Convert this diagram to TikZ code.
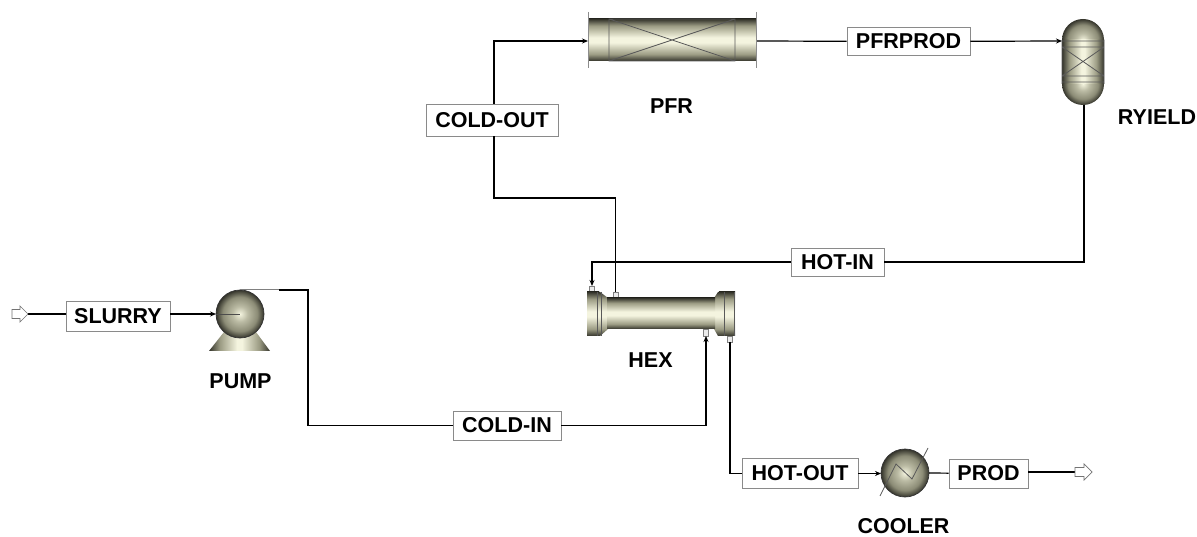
\documentclass[tikz,border=0pt]{standalone}
\usepackage{fontspec}
\setmainfont{Liberation Sans}
\usetikzlibrary{arrows.meta}
\definecolor{eqL}{HTML}{F4F4DF}
\definecolor{eqM}{HTML}{9C9C84}
\definecolor{eqD}{HTML}{33332A}
\definecolor{boxgray}{HTML}{8A8A8A}
\pgfdeclareverticalshading{cylv}{100bp}{color(0bp)=(eqD);color(25bp)=(eqD);color(33bp)=(eqM);color(47bp)=(eqL);color(53bp)=(eqL);color(67bp)=(eqM);color(75bp)=(eqD);color(100bp)=(eqD)}
\pgfdeclarehorizontalshading{cylh}{100bp}{color(0bp)=(eqD);color(25bp)=(eqD);color(34bp)=(eqM);color(48bp)=(eqL);color(52bp)=(eqL);color(66bp)=(eqM);color(75bp)=(eqD);color(100bp)=(eqD)}
\pgfdeclareradialshading{ballx}{\pgfpoint{0bp}{0bp}}{color(0bp)=(eqL);color(8bp)=(eqM!65!eqL);color(18bp)=(eqM!85!eqD);color(25bp)=(eqD);color(50bp)=(eqD)}
\tikzset{
  x=1pt,y=-1pt,
  stream/.style={line width=1.2pt,black},
  flowtip/.style={stream,-{Stealth[length=6pt,width=5pt]}},
  streamlabel/.style={draw=boxgray,line width=0.9pt,fill=white,inner sep=0pt,font=\fontsize{21.5}{23}\selectfont\bfseries,text=black},
  eqlabel/.style={inner sep=0pt,font=\fontsize{21.5}{23}\selectfont\bfseries,text=black},
  detail/.style={draw=black!65,line width=0.8pt},
  edgeline/.style={draw=black!80,line width=0.7pt},
  nozzle/.style={draw=black!50,line width=0.5pt,fill=black!8},
  openarrow/.style={draw=black!55,line width=0.7pt,fill=white},
  ballshape/.style={circle,inner sep=0pt,minimum size=48pt,shading=ballx,edgeline},
}
\begin{document}
\begin{tikzpicture}
\useasboundingbox (0,0) rectangle (1197,537);
% PFR
\node (pfr) at (672,40) [rectangle,inner sep=0pt,minimum width=168pt,minimum height=42pt,shading=cylv] {};
\draw[detail] (609,19) rectangle (735,61) (609,19) -- (735,61) (609,61) -- (735,19);
\draw[draw=black!45,line width=0.7pt] (588,12) -- (588,68) (756,12) -- (756,68);
% RYIELD
\node (ryieldtop) at (1083,40) [circle,inner sep=0pt,minimum size=42pt,shading=ballx] {};
\node (ryieldbot) at (1083,84) [circle,inner sep=0pt,minimum size=42pt,shading=ballx] {};
\node (ryield) at (1083,62) [rectangle,inner sep=0pt,minimum width=42pt,minimum height=44pt,shading=cylh] {};
\draw[detail] (1062,41) -- (1104,41) (1062,47) -- (1104,47) (1062,76) -- (1104,76) (1062,82) -- (1104,82)
  (1062,47) -- (1104,76) (1062,76) -- (1104,47) (1062,40) -- (1062,84) (1104,40) -- (1104,84);
% HEX
\draw[nozzle] (589.5,286) rectangle (594.5,292) (613,292) rectangle (618,298) (703.5,329) rectangle (708.5,336) (727.5,336) rectangle (732.5,342);
\path[shading=cylv] (597,292) -- (600,292) -- (608,298) -- (608,329) -- (600,336) -- (597,336) -- cycle;
\path[shading=cylv] (718,292) -- (714,298) -- (714,329) -- (718,336) -- (722,336) -- (722,292) -- cycle;
\node (hex) at (661,313.5) [rectangle,inner sep=0pt,minimum width=108pt,minimum height=31pt,shading=cylv] {};
\path[shading=cylv] (587,292) rectangle (599,336);
\path[shading=cylv] (719,292) rectangle (735,336);
\draw[detail] (597,292) -- (597,336) (601,292) -- (601,336) (724,292) -- (724,336) (734.5,292) -- (734.5,336);
% PUMP
\path[shading=cylh] (209,351) -- (224,332) -- (256,332) -- (270,351) -- cycle;
\node (pump) at (240,314) [ballshape] {};
% COOLER
\node (cooler) at (905,473) [ballshape] {};
\draw[detail] (880,496) -- (896,464) -- (912,479) -- (928,448);
% named ports
\coordinate (feedend) at (28,314);
\coordinate (pumpin) at (216,314);
\coordinate (pumpcentre) at (240,314);
\coordinate (pumpout) at (240,290);
\coordinate (pumpbend) at (279,290);
\coordinate (coldA) at (308,290);
\coordinate (coldB) at (308,425.5);
\coordinate (coldC) at (706,425.5);
\coordinate (hexcoldin) at (706,336);
\coordinate (hexcoldout) at (615.5,292);
\coordinate (outA) at (615.5,198);
\coordinate (outB) at (494,198);
\coordinate (outC) at (494,41);
\coordinate (pfrin) at (588,41);
\coordinate (pfrout) at (757,41);
\coordinate (ryin) at (1062,41);
\coordinate (ryout) at (1084,105);
\coordinate (hotA) at (1084,262);
\coordinate (hotB) at (592,262);
\coordinate (hexhotin) at (592,286);
\coordinate (hexhotout) at (730,342);
\coordinate (hotoutA) at (730,473.5);
\coordinate (coolin) at (881,473.5);
\coordinate (coolout) at (929,473);
\coordinate (prodend) at (1075,472);
% stream labels
\node (slurry) at (118,316) [streamlabel,minimum width=104pt,minimum height=30pt] {SLURRY};
\node (coldin) at (507,425.5) [streamlabel,minimum width=108pt,minimum height=29pt] {COLD-IN};
\node (coldout) at (492,120) [streamlabel,minimum width=132pt,minimum height=32pt] {COLD-OUT};
\node (pfrprod) at (908.5,41.5) [streamlabel,minimum width=123pt,minimum height=28pt] {PFRPROD};
\node (hotin) at (837.5,262) [streamlabel,minimum width=93pt,minimum height=28pt] {HOT-IN};
\node (hotout) at (800,473.5) [streamlabel,minimum width=116pt,minimum height=30pt] {HOT-OUT};
\node (prod) at (988.5,473.5) [streamlabel,minimum width=79pt,minimum height=29pt] {PROD};
% equipment labels
\node at (671.5,106) [eqlabel] {PFR};
\node at (1157,117) [eqlabel] {RYIELD};
\node at (650.5,360) [eqlabel] {HEX};
\node at (240.5,381) [eqlabel] {PUMP};
\node at (903.5,526.5) [eqlabel] {COOLER};
% connectors
\draw[stream] (feedend) -- (slurry.west |- feedend);
\draw[flowtip] (slurry.east |- pumpin) -- (pumpin);
\draw[draw=black!70,line width=0.7pt] (pumpin) -- (pumpcentre);
\draw[draw=black!50,line width=1pt] (pumpout) -- (pumpbend);
\draw[stream] (pumpbend) -- (coldA) -- (coldB) -- (coldin);
\draw[flowtip] (coldin) -- (coldC) -- (hexcoldin);
\draw[stream] (hexcoldout) -- (outA) -- (outB) -- (outB |- coldout.south);
\draw[flowtip] (outB |- coldout.north) -- (outC) -- (pfrin);
\draw[stream] (pfrout) -- (pfrprod);
\draw[flowtip] (pfrprod) -- (ryin);
\draw[stream] (ryout) -- (hotA) -- (hotin);
\draw[flowtip] (hotin) -- (hotB) -- (hexhotin);
\draw[stream] (hexhotout) -- (hotoutA) -- (hotout);
\draw[flowtip] (hotout) -- (coolin);
\draw[stream] (coolout) -- (prod);
\draw[stream] (prod.east |- prodend) -- (prodend);
% feed and product arrows
\draw[openarrow] (12,309.5) -- (20,309.5) -- (20,306) -- (28,314) -- (20,322) -- (20,318.5) -- (12,318.5) -- cycle;
\draw[openarrow] (1075,467.5) -- (1084,467.5) -- (1084,464) -- (1092,472) -- (1084,480) -- (1084,476.5) -- (1075,476.5) -- cycle;
\end{tikzpicture}
\end{document}
